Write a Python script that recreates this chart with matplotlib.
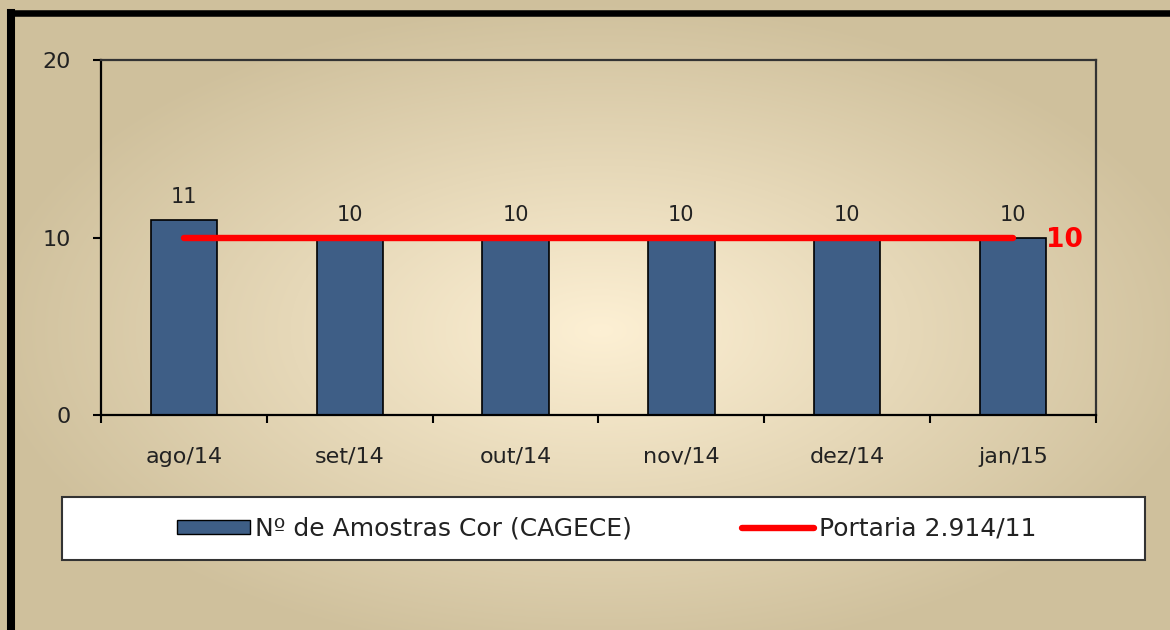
import numpy as np
import matplotlib
matplotlib.use('Agg')
import matplotlib.pyplot as plt
from matplotlib.patches import Patch, Rectangle
from matplotlib.lines import Line2D

# data
months = ['ago/14', 'set/14', 'out/14', 'nov/14', 'dez/14', 'jan/15']
amostras = [11, 10, 10, 10, 10, 10]
portaria = [10, 10, 10, 10, 10, 10]

bar_label_txt = 'Nº de Amostras Cor (CAGECE)'
line_label_txt = 'Portaria 2.914/11'

BAR_COLOR = '#3e5e86'
TEXT_COLOR = '#222222'

W, H = 1170, 630
fig = plt.figure(figsize=(W / 100, H / 100), dpi=100)

# Radial background gradient (cream centre, tan edges)
bg = fig.add_axes([0, 0, 1, 1], zorder=-10)
yy, xx = np.mgrid[0:H, 0:W]
r = np.sqrt(((xx - 600) / 620.0) ** 2 + ((yy - 330) / 330.0) ** 2)
r = np.clip(r, 0, 1)
c0 = np.array([0xfd, 0xf0, 0xd4]) / 255.0
c1 = np.array([0xcf, 0xc0, 0x9c]) / 255.0
img = c0 + (c1 - c0) * r[..., None]
bg.imshow(img, extent=[0, 1, 0, 1], aspect='auto', origin='upper')
bg.axis('off')

# Main chart
ax = fig.add_axes([101 / W, 1 - 415 / H, (1096 - 101) / W, (415 - 60) / H])
ax.set_facecolor('none')
x = np.arange(len(months))
bars = ax.bar(x, amostras, width=0.4, color=BAR_COLOR, edgecolor='black',
              linewidth=1.2, zorder=2)
ax.bar_label(bars, padding=9, fontsize=15, color=TEXT_COLOR)
ax.plot(x, portaria, color='red', lw=4.6, solid_capstyle='round', zorder=3)
ax.annotate(str(portaria[-1]), (x[-1], portaria[-1]), xytext=(24, -2),
            textcoords='offset points', color='red', fontsize=19,
            fontweight='bold', ha='left', va='center')

ax.set_xlim(-0.5, len(months) - 0.5)
ax.set_ylim(0, 20)
ax.set_yticks([0, 10, 20])
ax.set_xticks(x)
ax.set_xticklabels(months)
ax.set_xticks(np.arange(-0.5, len(months), 1), minor=True)
ax.tick_params(axis='x', which='major', length=0, pad=23, labelsize=16,
               labelcolor=TEXT_COLOR)
ax.tick_params(axis='x', which='minor', length=6, width=1.5)
ax.tick_params(axis='y', length=6, width=1.5, pad=16, labelsize=16,
               labelcolor=TEXT_COLOR)
for side in ['left', 'bottom']:
    ax.spines[side].set_linewidth(1.6)
    ax.spines[side].set_color('black')
for side in ['top', 'right']:
    ax.spines[side].set_linewidth(1.6)
    ax.spines[side].set_color('#333333')

# Legend box
box = Rectangle((62 / W, 1 - 560 / H), (1145 - 62) / W, 63 / H,
                transform=fig.transFigure, facecolor='white',
                edgecolor='#333333', lw=1.5, zorder=1)
fig.add_artist(box)
handles = [Patch(facecolor=BAR_COLOR, edgecolor='black', label=bar_label_txt),
           Line2D([0], [0], color='red', lw=4.6, solid_capstyle='round',
                  label=line_label_txt)]
fig.legend(handles=handles, loc='center', bbox_to_anchor=(607 / W, 1 - 528.5 / H),
           ncol=2, frameon=False, fontsize=18, handlelength=2.9,
           handleheight=0.5, handletextpad=0.2, columnspacing=4.4,
           labelcolor=TEXT_COLOR)

# Black frame (left and top edges)
fig.add_artist(Line2D([11 / W, 11 / W], [0, 1 - 13 / H], transform=fig.transFigure,
                      color='black', lw=5.8, solid_capstyle='projecting'))
fig.add_artist(Line2D([11 / W, 1], [1 - 13 / H, 1 - 13 / H], transform=fig.transFigure,
                      color='black', lw=4.7, solid_capstyle='projecting'))

fig.savefig('out.png', dpi=100)
